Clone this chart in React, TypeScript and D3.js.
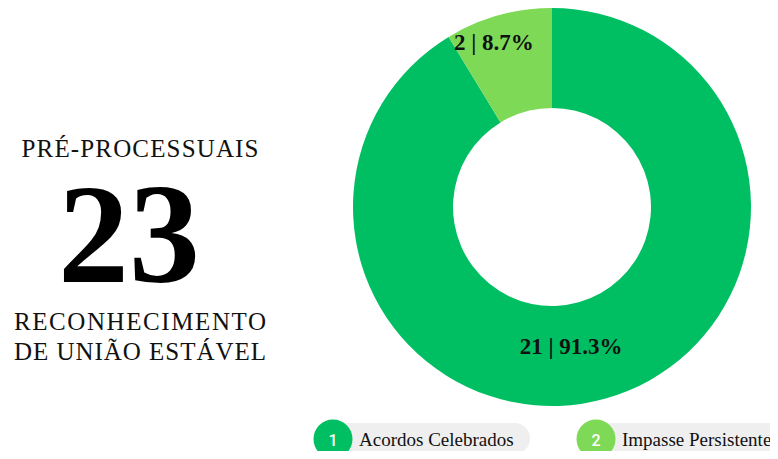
import React from "react";
import * as d3 from "d3";

const categories = ["Acordos Celebrados", "Impasse Persistente"];
const values = [21, 2];
const colors = ["#00bf63", "#7ed957"];
const titleTop = "PRÉ-PROCESSUAIS";
const titleBottom = ["RECONHECIMENTO", "DE UNIÃO ESTÁVEL"];

const W = 778;
const H = 459;
const cx = 552;
const cy = 207;
const R = 199;
const r0 = 99;
const labelRadii = [0.73 * R, 0.86 * R];
const labelShift = [-20, -12];
const serif = "'Liberation Serif', 'Times New Roman', serif";

export default function App() {
  const total = d3.sum(values);
  const pie = d3.pie<number>().sort(null).value((d) => d);
  const arcs = pie(values);
  const arc = d3.arc<d3.PieArcDatum<number>>().innerRadius(r0).outerRadius(R);
  const legendX = [333, 596];
  const legendW = [197, 200];
  return (
    <div style={{ margin: -8 }}>
      <svg width={W} height={H} style={{ display: "block", background: "#fff" }}>
        <g transform={`translate(${cx},${cy})`}>
          {arcs.map((a, i) => (
            <path key={i} d={arc(a) || ""} fill={colors[i]} />
          ))}
          {arcs.map((a, i) => {
            const mid = (a.startAngle + a.endAngle) / 2;
            const lr = labelRadii[i];
            const x = Math.sin(mid) * lr + labelShift[i];
            const y = -Math.cos(mid) * lr;
            const pct = ((values[i] / total) * 100).toFixed(1);
            return (
              <text
                key={i}
                x={x}
                y={y}
                textAnchor="middle"
                dominantBaseline="central"
                fontFamily={serif}
                fontWeight="bold"
                fontSize={23}
                fill="#111"
              >
                {`${values[i]} | ${pct}%`}
              </text>
            );
          })}
        </g>
        <text x={140} y={157} textAnchor="middle" fontFamily={serif} fontSize={25} textLength={237} lengthAdjust="spacing" fill="#111">
          {titleTop}
        </text>
        <text x={129} y={282} textAnchor="middle" fontFamily={serif} fontWeight="bold" fontSize={142} fill="#000">
          {total}
        </text>
        {titleBottom.map((t, i) => (
          <text key={i} x={140} y={330 + i * 30} textAnchor="middle" fontFamily={serif} fontSize={25} fill="#111" textLength={252} lengthAdjust="spacing">
            {t}
          </text>
        ))}
        {categories.map((c, i) => (
          <g key={c} transform={`translate(${legendX[i]},439)`}>
            <rect x={0} y={-16} width={legendW[i]} height={31} rx={15.5} fill="#efefef" />
            <circle cx={0} cy={0} r={19.5} fill={colors[i]} />
            <text x={0} y={1} textAnchor="middle" dominantBaseline="central" fontFamily="Roboto, sans-serif" fontWeight={500} fontSize={16} fill="#fff">
              {i + 1}
            </text>
            <text x={26} y={0} dominantBaseline="central" fontFamily={serif} fontSize={19} fill="#111">
              {c}
            </text>
          </g>
        ))}
      </svg>
    </div>
  );
}
